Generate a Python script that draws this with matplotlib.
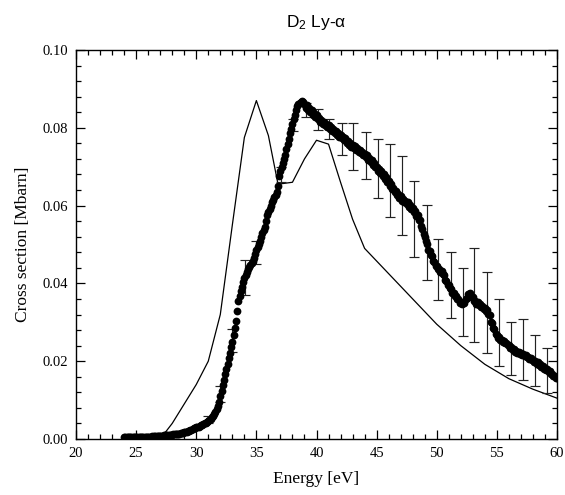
import numpy as np
import matplotlib
matplotlib.use("Agg")
import matplotlib.pyplot as plt
from matplotlib.ticker import MultipleLocator

# ---- theory curve (thin line) ----
theory_e = [27.0, 28.0, 29.0, 30.0, 31.0, 32.0, 33.0, 34.0, 35.0, 36.0, 36.8,
            38.0, 39.0, 40.0, 41.0, 42.0, 43.0, 44.0, 46.0, 48.0, 50.0, 52.0,
            54.0, 56.0, 58.0, 60.0]
theory_y = [0.0, 0.004, 0.009, 0.014, 0.020, 0.032, 0.055, 0.0775, 0.087, 0.078,
            0.0655, 0.066, 0.072, 0.0768, 0.0758, 0.066, 0.0565, 0.049, 0.0425,
            0.036, 0.0295, 0.024, 0.0192, 0.0155, 0.0128, 0.0105]

# ---- measured cross section (dots), 0.1 eV steps from 24.0 to 60.0 eV ----
meas_e_start = 24.0
meas_e_step = 0.1
meas_y = [
    0.0004, 0.0004, 0.0005, 0.0004, 0.0004, 0.0005, 0.0005, 0.0004, 0.0005, 0.0005,
    0.0005, 0.0005, 0.0005, 0.0006, 0.0005, 0.0005, 0.0006, 0.0005, 0.0006, 0.0006,
    0.0006, 0.0006, 0.0006, 0.0007, 0.0006, 0.0007, 0.0007, 0.0007, 0.0008, 0.0007,
    0.0008, 0.0008, 0.0008, 0.0009, 0.0009, 0.0009, 0.0010, 0.0010, 0.0010, 0.0011,
    0.0011, 0.0012, 0.0012, 0.0013, 0.0013, 0.0014, 0.0014, 0.0015, 0.0016, 0.0016,
    0.0017, 0.0018, 0.0019, 0.0020, 0.0021, 0.0023, 0.0024, 0.0025, 0.0027, 0.0028,
    0.0030, 0.0031, 0.0032, 0.0034, 0.0035, 0.0037, 0.0039, 0.0040, 0.0042, 0.0044,
    0.0046, 0.0049, 0.0052, 0.0056, 0.0060, 0.0065, 0.0070, 0.0076, 0.0084, 0.0096,
    0.0110, 0.0124, 0.0138, 0.0152, 0.0166, 0.0180, 0.0194, 0.0208, 0.0222, 0.0236,
    0.0250, 0.0268, 0.0286, 0.0304, 0.0330, 0.0355, 0.0368, 0.0380, 0.0392, 0.0404,
    0.0413, 0.0422, 0.0430, 0.0436, 0.0442, 0.0447, 0.0452, 0.0458, 0.0466, 0.0476,
    0.0486, 0.0494, 0.0502, 0.0510, 0.0520, 0.0530, 0.0538, 0.0546, 0.0560, 0.0576,
    0.0584, 0.0592, 0.0600, 0.0608, 0.0615, 0.0621, 0.0627, 0.0635, 0.0650, 0.0675,
    0.0688, 0.0700, 0.0710, 0.0720, 0.0730, 0.0745, 0.0758, 0.0772, 0.0786, 0.0798,
    0.0810, 0.0822, 0.0834, 0.0846, 0.0855, 0.0860, 0.0864, 0.0866, 0.0868, 0.0866,
    0.0862, 0.0852, 0.0858, 0.0846, 0.0851, 0.0840, 0.0845, 0.0833, 0.0838, 0.0827,
    0.0832, 0.0822, 0.0826, 0.0816, 0.0821, 0.0811, 0.0815, 0.0806, 0.0810, 0.0801,
    0.0806, 0.0797, 0.0802, 0.0792, 0.0797, 0.0786, 0.0791, 0.0782, 0.0787, 0.0777,
    0.0782, 0.0773, 0.0777, 0.0768, 0.0773, 0.0762, 0.0766, 0.0756, 0.0761, 0.0751,
    0.0757, 0.0748, 0.0753, 0.0743, 0.0748, 0.0739, 0.0743, 0.0734, 0.0738, 0.0729,
    0.0733, 0.0724, 0.0729, 0.0718, 0.0722, 0.0712, 0.0716, 0.0705, 0.0709, 0.0698,
    0.0700, 0.0690, 0.0693, 0.0683, 0.0688, 0.0677, 0.0681, 0.0669, 0.0673, 0.0660,
    0.0664, 0.0651, 0.0655, 0.0643, 0.0646, 0.0634, 0.0638, 0.0627, 0.0630, 0.0619,
    0.0624, 0.0613, 0.0618, 0.0608, 0.0613, 0.0603, 0.0608, 0.0597, 0.0602, 0.0591,
    0.0594, 0.0583, 0.0586, 0.0574, 0.0576, 0.0563, 0.0562, 0.0548, 0.0540, 0.0526,
    0.0520, 0.0508, 0.0502, 0.0486, 0.0484, 0.0473, 0.0470, 0.0458, 0.0455, 0.0445,
    0.0446, 0.0437, 0.0438, 0.0429, 0.0431, 0.0423, 0.0421, 0.0410, 0.0406, 0.0396,
    0.0395, 0.0387, 0.0386, 0.0376, 0.0375, 0.0368, 0.0368, 0.0360, 0.0359, 0.0350,
    0.0352, 0.0346, 0.0350, 0.0350, 0.0360, 0.0363, 0.0374, 0.0373, 0.0376, 0.0365,
    0.0364, 0.0354, 0.0355, 0.0347, 0.0351, 0.0344, 0.0347, 0.0340, 0.0342, 0.0334,
    0.0337, 0.0330, 0.0332, 0.0321, 0.0318, 0.0300, 0.0297, 0.0286, 0.0282, 0.0270,
    0.0268, 0.0260, 0.0261, 0.0254, 0.0255, 0.0249, 0.0251, 0.0246, 0.0248, 0.0241,
    0.0242, 0.0235, 0.0236, 0.0229, 0.0231, 0.0224, 0.0226, 0.0220, 0.0223, 0.0218,
    0.0221, 0.0215, 0.0218, 0.0213, 0.0215, 0.0210, 0.0212, 0.0206, 0.0208, 0.0202,
    0.0204, 0.0198, 0.0200, 0.0194, 0.0197, 0.0191, 0.0192, 0.0185, 0.0187, 0.0181,
    0.0183, 0.0177, 0.0179, 0.0173, 0.0174, 0.0167, 0.0168, 0.0161, 0.0162, 0.0156,
    0.0156,
]

# ---- error bars ----
err_e = [31.0, 32.0, 33.0, 34.05, 35.0, 37.05, 38.05, 39.1, 40.1, 41.05, 42.1,
         43.05, 44.1, 45.1, 46.1, 47.1, 48.1, 49.15, 50.1, 51.15, 52.15, 53.1,
         54.15, 55.15, 56.15, 57.15, 58.15, 59.2]
err_y = [0.0050, 0.0115, 0.0253, 0.0415, 0.0480, 0.0680, 0.0807, 0.0847, 0.0821,
         0.0796, 0.0771, 0.0752, 0.0729, 0.0695, 0.0664, 0.0626, 0.0566, 0.0505,
         0.0435, 0.0396, 0.0352, 0.0371, 0.0326, 0.0273, 0.0233, 0.0230, 0.0202,
         0.0177]
err_d = [0.0008, 0.0020, 0.0030, 0.0045, 0.0030, 0.0020, 0.0015, 0.0018, 0.0027,
         0.0026, 0.0041, 0.0060, 0.0061, 0.0076, 0.0094, 0.0102, 0.0097, 0.0096,
         0.0078, 0.0086, 0.0087, 0.0121, 0.0104, 0.0086, 0.0068, 0.0078, 0.0066,
         0.0058]

x_ticks = [20, 25, 30, 35, 40, 45, 50, 55, 60]
y_ticks = [0.00, 0.02, 0.04, 0.06, 0.08, 0.10]

plt.rcParams["mathtext.fontset"] = "custom"
plt.rcParams["mathtext.rm"] = "Liberation Sans"
plt.rcParams["mathtext.it"] = "Liberation Sans"

meas_e = meas_e_start + meas_e_step * np.arange(len(meas_y))

fig = plt.figure(figsize=(5.65, 4.95), dpi=100)
ax = fig.add_axes([76 / 565, 1 - 439 / 495, (557 - 76) / 565, (439 - 50) / 495])

ax.plot(theory_e, theory_y, color="black", lw=0.9, zorder=2)
ax.errorbar(err_e, err_y, yerr=err_d, fmt="none", ecolor="#222222",
            elinewidth=0.85, capsize=3.6, capthick=0.85, zorder=3)
ax.plot(meas_e, meas_y, "o", color="black", ms=5.6, mew=0, zorder=4)

ax.set_xlim(20, 60)
ax.set_ylim(0, 0.10)
ax.set_xticks(x_ticks)
ax.set_yticks(y_ticks)
ax.set_xticklabels([str(t) for t in x_ticks])
ax.set_yticklabels([f"{t:.2f}" for t in y_ticks])
ax.xaxis.set_minor_locator(MultipleLocator(1))
ax.yaxis.set_minor_locator(MultipleLocator(0.004))

serif = "Liberation Serif"
ax.tick_params(which="both", direction="in", top=True, right=True,
               width=0.9, color="black")
ax.tick_params(which="major", length=6.5)
ax.tick_params(which="minor", length=3.5)
ax.tick_params(axis="x", which="major", pad=6)
ax.tick_params(axis="y", which="major", pad=6)
for lab in ax.get_xticklabels() + ax.get_yticklabels():
    lab.set_fontfamily(serif)
    lab.set_fontsize(10.5)
for sp in ax.spines.values():
    sp.set_linewidth(1.0)

ax.set_xlabel("Energy [eV]", fontfamily=serif, fontsize=12.5, labelpad=8)
ax.set_ylabel("Cross section [Mbarn]", fontfamily=serif, fontsize=12.5, labelpad=8)

fig.text(316 / 565, 1 - 22 / 495, r"D$_{2}$ Ly-$\mathrm{\alpha}$", ha="center",
         va="center", fontfamily="Liberation Sans", fontsize=12.5)

fig.savefig("out.png", dpi=100)
